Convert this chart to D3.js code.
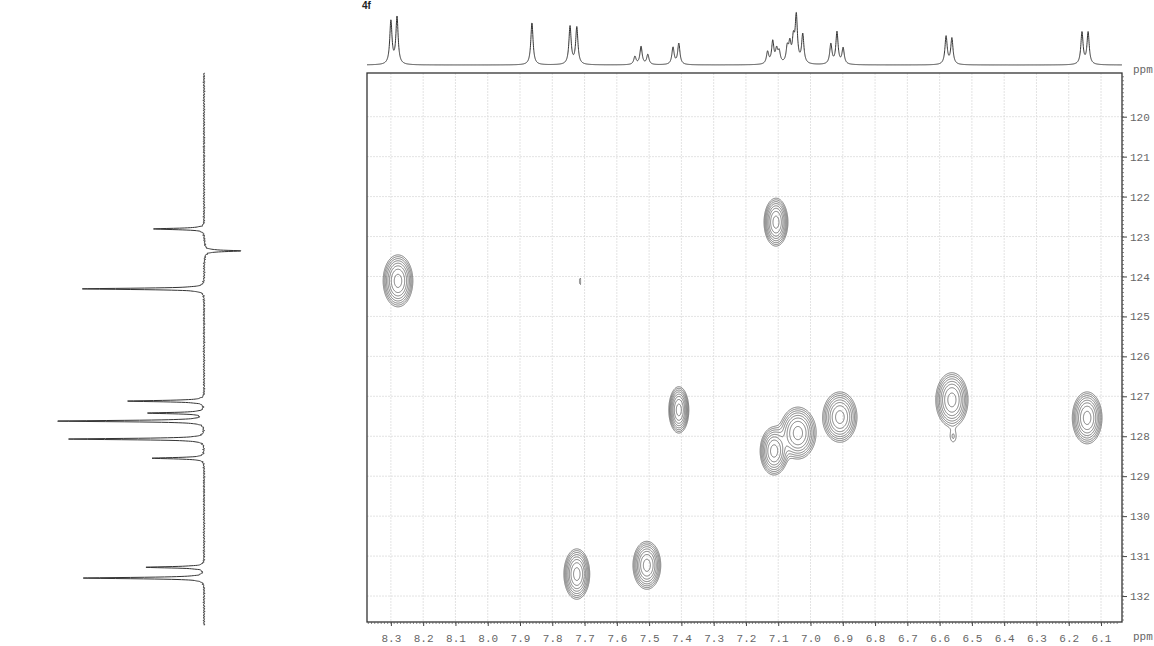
<!DOCTYPE html>
<html>
<head>
<meta charset="utf-8">
<script src="https://cdn.jsdelivr.net/npm/d3@7"></script>
<style>
  body { margin: 0; background: #fff; }
  svg { display: block; }
</style>
</head>
<body>
<svg width="1154" height="646"></svg>
<script>
// 1H projection (top): line positions in ppm and heights
var protonShift = [8.300, 8.281, 7.863, 7.745, 7.724, 7.544, 7.525, 7.504, 7.426, 7.408,
    7.133, 7.117, 7.105, 7.097, 7.072, 7.064, 7.053, 7.044, 7.024,
    6.937, 6.918, 6.899, 6.580, 6.562, 6.159, 6.140];
var protonHeight = [43, 47, 42, 38, 37, 8, 18, 10, 17, 21,
    12, 22, 13, 11, 15, 18, 22, 46, 29,
    20, 32, 16, 28, 26, 32, 32];

// 13C projection (left): positions in ppm and heights (negative = inverted)
var carbonShift = [122.81, 123.36, 124.31, 127.12, 127.42, 127.62, 128.07, 128.55, 131.28, 131.55];
var carbonHeight = [52, -36, 124, 78, 57, 150, 138, 53, 60, 124];

// HSQC cross peaks: 1H ppm, 13C ppm, half widths of outer contour, amplitude
var crossH = [8.278, 7.107, 7.408, 7.724, 7.507, 7.113, 7.039, 6.909, 6.562, 6.143, 6.558, 7.714];
var crossC = [124.11, 122.64, 127.34, 131.45, 131.23, 128.37, 127.92, 127.52, 127.09, 127.54, 128.02, 124.12];
var crossWidthH = [0.046, 0.037, 0.031, 0.040, 0.043, 0.043, 0.056, 0.053, 0.050, 0.046, 0.022, 0.006];
var crossWidthC = [0.65, 0.60, 0.58, 0.63, 0.60, 0.60, 0.65, 0.63, 0.68, 0.65, 0.32, 0.45];
var crossAmp = [1, 1, 1, 1, 1, 1, 1, 1, 1, 1, 0.11, 0.1];
var contourLevels = [0.08, 0.112, 0.157, 0.22, 0.31, 0.43, 0.6, 0.85];

var hTicks = d3.range(83, 60, -1).map(function(d) { return d / 10; });
var cTicks = d3.range(120, 133);

var svg = d3.select("svg");
var plotLeft = 367, plotRight = 1122, plotTop = 73, plotBottom = 622;

var x = d3.scaleLinear().domain([8.374, 6.035]).range([plotLeft, plotRight]);
var y = d3.scaleLinear().domain([118.906, 132.65]).range([plotTop, plotBottom]);
var hY = d3.scaleLinear().domain([0, 52]).range([65, 13]);
var cX = d3.scaleLinear().domain([0, 150]).range([204, 54]);

// grid
svg.append("g").selectAll("line").data(hTicks).enter()
    .append("line")
    .attr("x1", function(d) { return x(d); })
    .attr("x2", function(d) { return x(d); })
    .attr("y1", plotTop).attr("y2", plotBottom)
    .attr("stroke", "#dcdcdc").attr("stroke-width", 0.8)
    .attr("stroke-dasharray", "2,1");
svg.append("g").selectAll("line").data(cTicks).enter()
    .append("line")
    .attr("x1", plotLeft).attr("x2", plotRight)
    .attr("y1", function(d) { return y(d); })
    .attr("y2", function(d) { return y(d); })
    .attr("stroke", "#dcdcdc").attr("stroke-width", 0.8)
    .attr("stroke-dasharray", "2,1");

// contours
var nx = plotRight - plotLeft, ny = plotBottom - plotTop;
var k = Math.log(1 / 0.08);
var values = new Float64Array(nx * ny);
for (var j = 0; j < ny; j++) {
    var pc = y.invert(plotTop + j + 0.5);
    for (var i = 0; i < nx; i++) {
        var ph = x.invert(plotLeft + i + 0.5);
        var v = 0;
        for (var p = 0; p < crossH.length; p++) {
            var dh = (ph - crossH[p]) / crossWidthH[p];
            var dc = (pc - crossC[p]) / crossWidthC[p];
            var r2 = dh * dh + dc * dc;
            if (r2 < 9) v += crossAmp[p] * Math.exp(-k * r2);
        }
        values[j * nx + i] = v;
    }
}
var contours = d3.contours().size([nx, ny]).thresholds(contourLevels)(values);
svg.append("g")
    .selectAll("path").data(contours).enter()
    .append("path")
    .attr("d", d3.geoPath(d3.geoIdentity().translate([plotLeft, plotTop])))
    .attr("fill", "none")
    .attr("stroke", "#555")
    .attr("stroke-width", 0.75);

// frame
svg.append("rect")
    .attr("x", plotLeft).attr("y", plotTop)
    .attr("width", plotRight - plotLeft).attr("height", plotBottom - plotTop)
    .attr("fill", "none").attr("stroke", "#333").attr("stroke-width", 1.3);

// bottom axis
var bottomAxis = d3.axisBottom(x).tickValues(hTicks).tickSize(4).tickFormat(d3.format(".1f"));
var gb = svg.append("g").attr("transform", "translate(0," + plotBottom + ")").call(bottomAxis);
gb.select(".domain").remove();
gb.selectAll("line").attr("stroke", "#444");
gb.selectAll("text").attr("font-family", "Liberation Mono, monospace").attr("font-size", "11px")
    .attr("fill", "#666").attr("dy", "1.15em");
svg.append("g").selectAll("line").data(d3.range(837, 604, -1).map(function(d) { return d / 100; }))
    .enter().append("line")
    .attr("x1", function(d) { return x(d); }).attr("x2", function(d) { return x(d); })
    .attr("y1", plotBottom).attr("y2", plotBottom + 2)
    .attr("stroke", "#555").attr("stroke-width", 0.7);

// right axis
var rightAxis = d3.axisRight(y).tickValues(cTicks).tickSize(5).tickFormat(d3.format("d"));
var gr = svg.append("g").attr("transform", "translate(" + plotRight + ",0)").call(rightAxis);
gr.select(".domain").remove();
gr.selectAll("line").attr("stroke", "#444");
gr.selectAll("text").attr("font-family", "Liberation Mono, monospace").attr("font-size", "11px")
    .attr("fill", "#666");
svg.append("g").selectAll("line").data(d3.range(1190, 1327).map(function(d) { return d / 10; }))
    .enter().append("line")
    .attr("x1", plotRight).attr("x2", plotRight + 2)
    .attr("y1", function(d) { return y(d); }).attr("y2", function(d) { return y(d); })
    .attr("stroke", "#555").attr("stroke-width", 0.7);

svg.append("text").attr("x", 1133).attr("y", 640).text("ppm")
    .attr("font-family", "Liberation Mono, monospace").attr("font-size", "11px").attr("fill", "#666");
svg.append("text").attr("x", 1133).attr("y", 73).text("ppm")
    .attr("font-family", "Liberation Mono, monospace").attr("font-size", "11px").attr("fill", "#666");

// 1H trace
var gH = 0.0042;
var hPts = d3.range(8.374, 6.035, -0.0004).map(function(p) {
    var s = 0;
    for (var n = 0; n < protonShift.length; n++) {
        var d = p - protonShift[n];
        s += protonHeight[n] * gH * gH / (gH * gH + d * d);
    }
    return [p, s];
});
svg.append("path")
    .datum(hPts)
    .attr("d", d3.line().x(function(d) { return x(d[0]); }).y(function(d) { return hY(d[1]); }))
    .attr("fill", "none").attr("stroke", "#333").attr("stroke-width", 1);

// 13C trace (with a slight baseline ripple)
var gC = 0.02, gB = 0.15;
var cPts = d3.range(118.91, 132.73, 0.004).map(function(p) {
    var s = 0.45 * Math.sin(p * 97) + 0.4 * Math.sin(p * 151 + 1) + 0.35 * Math.sin(p * 233 + 2);
    for (var n = 0; n < carbonShift.length; n++) {
        var d = p - carbonShift[n];
        s += carbonHeight[n] * gC * gC / (gC * gC + d * d);
        s -= 0.02 * Math.abs(carbonHeight[n]) * gB * gB / (gB * gB + d * d);
    }
    return [p, s];
});
svg.append("path")
    .datum(cPts)
    .attr("d", d3.line().x(function(d) { return cX(d[1]); }).y(function(d) { return y(d[0]); }))
    .attr("fill", "none").attr("stroke", "#333").attr("stroke-width", 1);

// title
svg.append("text").attr("x", 362).attr("y", 9).text("4f")
    .attr("font-family", "Liberation Sans, Arial, sans-serif").attr("font-weight", "bold")
    .attr("font-size", "10px").attr("fill", "#222");
</script>
</body>
</html>
